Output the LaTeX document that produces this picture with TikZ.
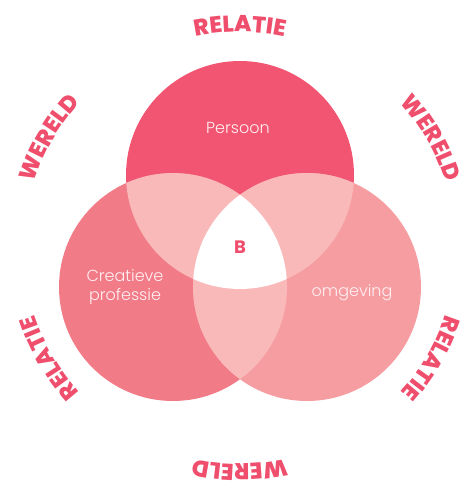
\documentclass[tikz,border=0pt]{standalone}
\usepackage{fontspec}
\setmainfont{Poppins}
\newfontfamily\lightfont{Poppins Light}
\newfontfamily\arcfont{Poppins ExtraBold}[LetterSpace=8]
\newfontfamily\bfont{Poppins Bold}
\usetikzlibrary{decorations.text}
\definecolor{ctop}{HTML}{F15571}
\definecolor{cleft}{HTML}{F27B88}
\definecolor{cright}{HTML}{F69DA1}
\definecolor{clens}{HTML}{F9B9B9}
\definecolor{carc}{HTML}{EF4F6D}
\definecolor{clabel}{HTML}{FFF0F2}
\tikzset{
  arctext/.style={decorate, decoration={text along path, text align=center,
      text color=carc, text={|\arcfont\fontsize{23}{23}\selectfont|#1}}},
  inlabel/.style={text=clabel, font=\lightfont\fontsize{16}{19}\selectfont, align=center, inner sep=0pt},
}
\begin{document}
\begin{tikzpicture}[x=1pt,y=1pt]
\useasboundingbox (0,0) rectangle (467,488);
\coordinate (O) at (240,240);
\coordinate (T) at (240,313);
\coordinate (L) at (173,201);
\coordinate (R) at (307,201);
\fill[ctop] (T) circle[radius=114];
\fill[cleft] (L) circle[radius=114];
\fill[cright] (R) circle[radius=114];
\begin{scope}
  \clip (T) circle[radius=114];
  \fill[clens] (L) circle[radius=114];
  \fill[clens] (R) circle[radius=114];
\end{scope}
\begin{scope}
  \clip (L) circle[radius=114];
  \fill[clens] (R) circle[radius=114];
\end{scope}
\begin{scope}
  \clip (T) circle[radius=114];
  \clip (L) circle[radius=114];
  \fill[white] (R) circle[radius=114];
\end{scope}
\node[inlabel] (persoon) at (238,360) {Persoon};
\node[inlabel] (creatief) at (125,201) {Creatieve\\professie};
\node[inlabel] (omgeving) at (352,195) {omgeving};
\node[text=carc, font=\bfont\fontsize{18}{18}\selectfont, inner sep=0pt] (b) at (240,241) {B};
\path[arctext=RELATIE] (O) ++(115:216) arc[start angle=115, end angle=65, radius=216];
\path[arctext=WERELD] (O) ++(55:216) arc[start angle=55, end angle=5, radius=216];
\path[arctext=RELATIE] (O) ++(-5:216) arc[start angle=-5, end angle=-55, radius=216];
\path[arctext=WERELD] (O) ++(-65:216) arc[start angle=-65, end angle=-115, radius=216];
\path[arctext=RELATIE] (O) ++(-125:216) arc[start angle=-125, end angle=-175, radius=216];
\path[arctext=WERELD] (O) ++(175:216) arc[start angle=175, end angle=125, radius=216];
\end{tikzpicture}
\end{document}
